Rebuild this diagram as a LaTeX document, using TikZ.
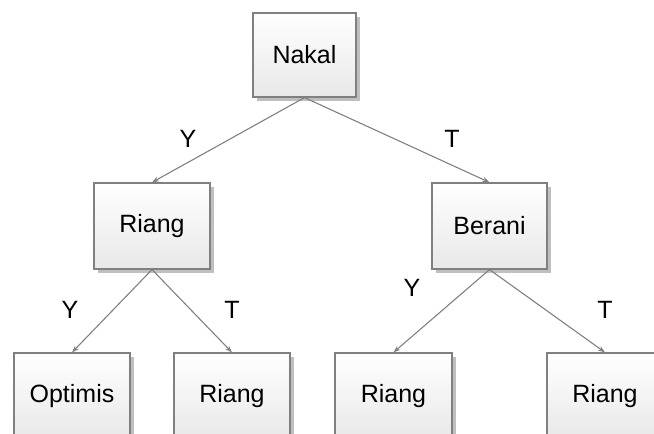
\documentclass[tikz,border=0pt]{standalone}
\usepackage{fontspec}
\setmainfont{Liberation Sans}
\usetikzlibrary{arrows.meta,shadows}
\begin{document}
\begin{tikzpicture}[x=1pt,y=-1pt,
  box/.style={draw=black!50,line width=1.2pt,top color=white,bottom color=black!9,
    minimum width=116pt,minimum height=86pt,inner sep=0pt,font=\fontsize{25}{30}\selectfont,
    drop shadow={shadow xshift=4pt,shadow yshift=-4pt,fill=black!25,opacity=1}},
  conn/.style={draw=black!50,line width=1.1pt,-{Stealth[length=7pt,width=5pt]}},
  lbl/.style={font=\fontsize{25}{30}\selectfont,inner sep=0pt}]
\useasboundingbox (0,0) rectangle (654,434);
\clip (0,0) rectangle (654,434);
\node[box,minimum width=103pt,minimum height=84pt] (nakal) at (304.5,55) {Nakal};
\node[box] (riang1) at (152,226) {Riang};
\node[box,minimum width=115pt] (berani) at (489.5,226) {Berani};
\node[box] (optimis) at (72,396) {Optimis};
\node[box] (riang2) at (232,396) {Riang};
\node[box,minimum width=117pt] (riang3) at (393.5,396) {Riang};
\node[box] (riang4) at (605,396) {Riang};
\draw[conn] (nakal.south) -- (riang1.north);
\draw[conn] (nakal.south) -- (berani.north);
\draw[conn] (riang1.south) -- (optimis.north);
\draw[conn] (riang1.south) -- (riang2.north);
\draw[conn] (berani.south) -- (riang3.north);
\draw[conn] (berani.south) -- (riang4.north);
\node[lbl] (y1) at (188,139) {Y};
\node[lbl] (t1) at (452,139) {T};
\node[lbl] (y2) at (70,310) {Y};
\node[lbl] (t2) at (232,310) {T};
\node[lbl] (y3) at (412,288) {Y};
\node[lbl] (t3) at (605,310) {T};
\end{tikzpicture}
\end{document}
